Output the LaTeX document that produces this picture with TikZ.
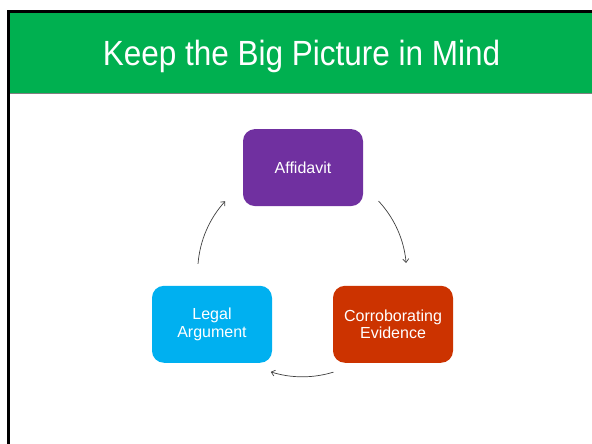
\documentclass[tikz,border=0pt]{standalone}
\usepackage{fontspec}
\setmainfont{Liberation Sans}
\newfontfamily\titlefont[FakeStretch=0.9]{Liberation Sans}
\usetikzlibrary{arrows.meta}
\definecolor{hdrgreen}{HTML}{00B050}
\definecolor{affpurple}{HTML}{7030A0}
\definecolor{legalblue}{HTML}{00B0F0}
\definecolor{corrred}{HTML}{CC3300}
\definecolor{arrgray}{HTML}{404040}
\tikzset{
  stepbox/.style={rounded corners=12pt, minimum width=120pt, minimum height=77pt,
    inner sep=0pt, text=white, align=center, font=\fontsize{16}{17.5}\selectfont},
  cyclearrow/.style={draw=arrgray, line width=0.7pt, -{Straight Barb[length=3.5pt,width=6pt]}},
}
\begin{document}
\begin{tikzpicture}[x=1pt,y=1pt]
\useasboundingbox (0,0) rectangle (592,444);
\fill[white] (0,0) rectangle (592,444);
% header
\fill[hdrgreen] (9.5,350.5) rectangle (592,431);
\draw[gray, line width=1pt] (9.5,350.2) -- (592,350.2);
\draw[black, line width=3pt, line join=miter] (8.3,0) -- (8.3,432.5) -- (592,432.5);
\node[anchor=base, text=white, font=\titlefont\fontsize{35}{37}\selectfont] (title) at (301.5,378) {Keep the Big Picture in Mind};
% boxes
\node[stepbox, fill=affpurple] (aff) at (303,276.4) {Affidavit};
\node[stepbox, fill=legalblue] (legal) at (212,119.7) {Legal\\Argument};
\node[stepbox, fill=corrred] (corr) at (393,119.7) {Corroborating\\Evidence};
% arrows
\coordinate (c) at (302.5,172);
\draw[cyclearrow] ([shift={(43:104)}]c) arc[start angle=43, end angle=5, radius=104];
\draw[cyclearrow] ([shift={(-72.8:104.8)}]c) arc[start angle=-72.8, end angle=-107.6, radius=104.8];
\draw[cyclearrow] ([shift={(175.6:104.8)}]c) arc[start angle=175.6, end angle=137.5, radius=104.8];
\end{tikzpicture}
\end{document}
